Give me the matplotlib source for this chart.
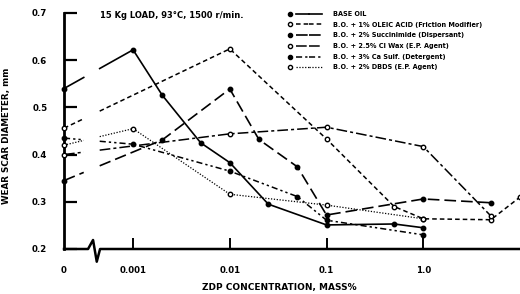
import numpy as np
import matplotlib
matplotlib.use("Agg")
import matplotlib.pyplot as plt
from matplotlib.lines import Line2D
from matplotlib.legend_handler import HandlerTuple
import matplotlib.transforms as mtransforms

plt.rcParams['font.family'] = ['DejaVu Sans']
plt.rcParams['font.weight'] = 'bold'

# ---------------- data ----------------
series_labels = [
    "BASE OIL",
    "B.O. + 1% OLEIC ACID (Friction Modifier)",
    "B.O. + 2% Succinimide (Dispersant)",
    "B.O. + 2.5% Cl Wax (E.P. Agent)",
    "B.O. + 3% Ca Sulf. (Detergent)",
    "B.O. + 2% DBDS (E.P. Agent)",
]
base_conc = [0, 0.001, 0.002, 0.005, 0.01, 0.025, 0.1, 0.5, 1.0]
base_wear = [0.540, 0.622, 0.526, 0.425, 0.383, 0.295, 0.251, 0.253, 0.245]
oleic_conc = [0, 0.01, 0.1, 0.5, 1.0, 5, 10]
oleic_wear = [0.456, 0.624, 0.433, 0.290, 0.264, 0.262, 0.310]
succ_conc = [0, 0.002, 0.01, 0.02, 0.05, 0.1, 1.0, 5]
succ_wear = [0.345, 0.431, 0.539, 0.432, 0.374, 0.272, 0.306, 0.298]
clwax_conc = [0, 0.01, 0.1, 1.0, 5]
clwax_wear = [0.400, 0.444, 0.458, 0.417, 0.270]
casulf_conc = [0, 0.001, 0.01, 0.05, 0.1, 1.0]
casulf_wear = [0.435, 0.422, 0.365, 0.311, 0.261, 0.230]
dbds_conc = [0, 0.001, 0.01, 0.1, 1.0]
dbds_wear = [0.420, 0.455, 0.316, 0.293, 0.264]

x_tick_values = [0, 0.001, 0.01, 0.1, 1.0]
x_tick_labels = ["0", "0.001", "0.01", "0.1", "1.0"]
y_ticks = [0.2, 0.3, 0.4, 0.5, 0.6, 0.7]
y_tick_labels = ["0.2", "0.3", "0.4", "0.5", "0.6", "0.7"]

# ---------------- scale helpers ----------------
ZERO_POS = -3.714          # where "0" sits on the broken log axis
BREAK_LO, BREAK_HI = -3.51, -3.345
X_MAX = 1.0


def xpos(c):
    c = np.asarray(c, float)
    safe = np.where(c > 0, c, 1.0)
    return np.where(c > 0, np.log10(safe), ZERO_POS)


def split_for_break(x, y):
    x = np.asarray(x, float)
    y = np.asarray(y, float)
    if len(x) > 1 and x[0] < BREAK_LO and x[1] > BREAK_HI:
        ylo = np.interp(BREAK_LO, x[:2], y[:2])
        yhi = np.interp(BREAK_HI, x[:2], y[:2])
        xs = np.concatenate([[x[0], BREAK_LO, np.nan, BREAK_HI], x[1:]])
        ys = np.concatenate([[y[0], ylo, np.nan, yhi], y[1:]])
        return xs, ys
    return x, y


series = [
    (base_conc, base_wear, dict(ls='-', filled=True, lw=1.2)),
    (oleic_conc, oleic_wear, dict(ls=(0, (3, 2)), filled=False, lw=1.1)),
    (succ_conc, succ_wear, dict(ls=(0, (7, 3)), filled=True, lw=1.2)),
    (clwax_conc, clwax_wear, dict(ls=(0, (7, 2, 2, 2)), filled=False, lw=1.1)),
    (casulf_conc, casulf_wear, dict(ls=(0, (4, 2, 1.5, 2, 1.5, 2)), filled=True, lw=1.1)),
    (dbds_conc, dbds_wear, dict(ls=(0, (1, 1.3)), filled=False, lw=0.9)),
]

W, H = 520, 294
fig = plt.figure(figsize=(W / 100, H / 100), dpi=100)
ax = fig.add_axes([64 / W, (H - 249) / H, 456 / W, 236 / H])

for conc, wear, st in series:
    xp = xpos(conc)
    xs, ys = split_for_break(xp, wear)
    ax.plot(xs, ys, color='black', ls=st['ls'], lw=st['lw'], zorder=2,
            clip_on=False)
    ax.plot(xp, wear, ls='none', marker='o', ms=3.2,
            mfc='black' if st['filled'] else 'white', mec='black', mew=1.0,
            zorder=3, clip_on=False)

ax.set_xlim(ZERO_POS, X_MAX)
ax.set_ylim(0.2, 0.7)

# axes styling
for s in ['top', 'right', 'bottom']:
    ax.spines[s].set_visible(False)
ax.spines['left'].set_linewidth(2.0)

ax.set_yticks(y_ticks)
ax.set_yticklabels(y_tick_labels)
ax.set_xticks(xpos(x_tick_values))
ax.set_xticklabels(x_tick_labels)
ax.tick_params(axis='y', direction='in', length=9, width=1.6, pad=12,
               labelsize=6.2)
ax.tick_params(axis='x', direction='in', length=8, width=1.4, pad=12,
               labelsize=6.2)
ax.xaxis.get_major_ticks()[0].tick1line.set_visible(False)
for lab in ax.get_xticklabels() + ax.get_yticklabels():
    lab.set_fontweight('bold')

# bottom axis line with break symbol
trans = mtransforms.blended_transform_factory(ax.transData, ax.transAxes)
px = lambda p: -3 + (p - 133) / 96.7
ax.plot([ZERO_POS, px(88), px(93), px(96.7), px(100), X_MAX],
        [0, 0, 9 / 236, -12.7 / 236, 0, 0],
        color='black', lw=1.8, transform=trans, clip_on=False, zorder=4)

ax.set_ylabel("WEAR SCAR DIAMETER, mm", fontsize=6.3, fontweight='bold')
ax.yaxis.set_label_coords(-53 / 456, (249 - 136) / 236)
ax.set_xlabel("ZDP CONCENTRATION, MASS%", fontsize=6.5, fontweight='bold')
ax.xaxis.set_label_coords((279 - 64) / 456, (249 - 283) / 236)

ax.text((100 - 64) / 456, (249 - 16) / 236,
        "15 Kg LOAD, 93°C, 1500 r/min.", transform=ax.transAxes,
        fontsize=6, fontweight='bold', ha='left', va='center')

# legend
handles = []
for conc, wear, st in series:
    m = Line2D([], [], ls='none', marker='o', ms=3.0,
               mfc='black' if st['filled'] else 'white', mec='black', mew=1.0)
    l = Line2D([], [], color='black', ls=st['ls'], lw=st['lw'])
    handles.append((m, l, l))
leg = ax.legend(handles, series_labels,
                handler_map={tuple: HandlerTuple(ndivide=3, pad=0)},
                loc='upper left', bbox_to_anchor=(283 / W, 1 - 11 / H),
                bbox_transform=fig.transFigure, frameon=False,
                fontsize=4.7, handlelength=6.0, handletextpad=1.6,
                labelspacing=0.72, borderpad=0, borderaxespad=0)
for t in leg.get_texts():
    t.set_fontweight('bold')

fig.savefig("out.png", dpi=100, facecolor='white')
